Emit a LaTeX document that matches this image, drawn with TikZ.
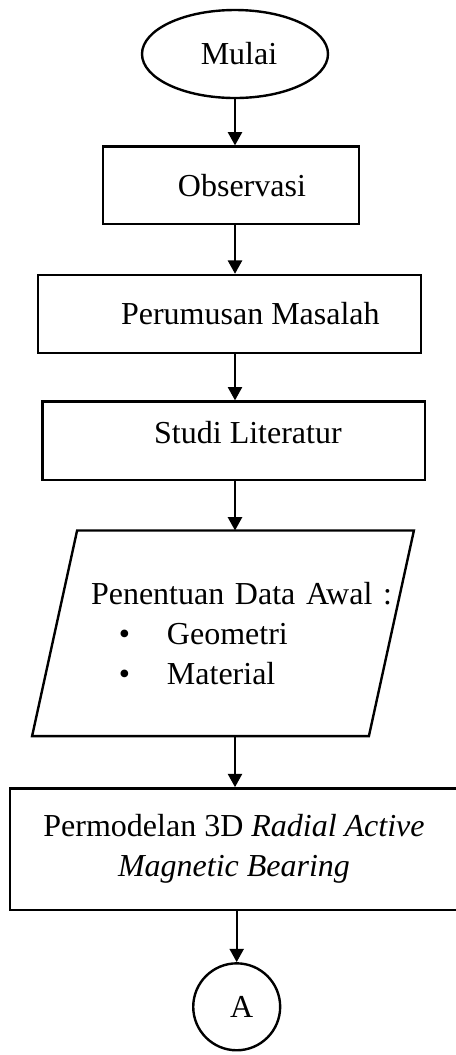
\documentclass[tikz,border=0pt]{standalone}
\usepackage{fontspec}
\setmainfont{Liberation Serif}
\usetikzlibrary{shapes.geometric,arrows.meta}
\tikzset{
  txt/.style  = {font=\fontsize{12pt}{15pt}\selectfont, line width=0.9pt, inner sep=0pt},
  term/.style = {ellipse, draw, txt, minimum width=69.75pt, minimum height=33pt},
  proc/.style = {rectangle, draw, txt, align=center},
  io/.style   = {rectangle, txt, align=left, text width=125.4pt,
                 minimum width=125.4pt, minimum height=76.2pt},
  conn/.style = {circle, draw, txt, minimum size=32.6pt},
  fl/.style   = {-{Triangle[length=5pt,width=5.25pt]}, line width=0.9pt},
}
\newcommand{\shifttext}[2]{\hspace*{#1}#2\hspace*{-#1}}
\newcommand{\dotitem}[1]{\hspace*{23.7pt}\makebox[18pt][l]{\textbullet}#1}

\begin{document}
\begin{tikzpicture}[x=0.375pt, y=-0.375pt]
  \useasboundingbox (0,0) rectangle (456,1055);
  \node[term] (s) at (235,54) {\shifttext{1.5pt}{Mulai}};
  \node[proc, minimum width=96.2pt, minimum height=29pt] (p1) at (231,185.3) {\shifttext{4.1pt}{Observasi}};
  \node[proc, minimum width=143.7pt, minimum height=29.25pt] (p2) at (229.3,314) {\shifttext{7.9pt}{Perumusan Masalah}};
  \node[proc, minimum width=143.6pt, minimum height=29.4pt, text depth=6pt] (p3) at (233.8,440.8) {\shifttext{5.3pt}{Studi Literatur}};
  \node[io] (io1) at (223,633.3) {\hspace*{13.2pt}\mbox{Penentuan Data Awal :}\\
    \dotitem{Geometri}\\
    \dotitem{Material}};
  \draw[line width=0.9pt] ([xshift=8.44pt]io1.north west) -- ([xshift=8.44pt]io1.north east)
    -- ([xshift=-8.44pt]io1.south east) -- ([xshift=-8.44pt]io1.south west) -- cycle;
  \node[proc, minimum width=168pt, minimum height=45.6pt] (p4) at (234,849.2) {Permodelan 3D \textit{Radial Active}\\\textit{Magnetic Bearing}};
  \node[conn] (c) at (236.7,1006.8) {\shifttext{1.9pt}{A}};

  \draw[fl] (s) -- (s |- p1.north);
  \draw[fl] (p1.south -| s) -- (p2.north -| s);
  \draw[fl] (p2.south -| s) -- (p3.north -| s);
  \draw[fl] (p3.south -| s) -- (io1.north -| s);
  \draw[fl] (io1.south -| s) -- (p4.north -| s);
  \draw[fl] (p4.south -| c) -- (c);
\end{tikzpicture}
\end{document}
